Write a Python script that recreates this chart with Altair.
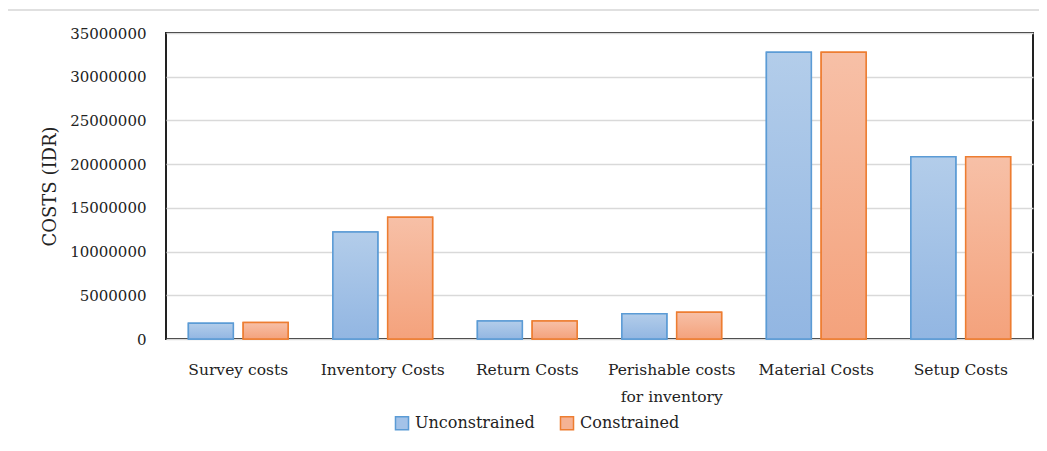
import altair as alt
import pandas as pd

categories = ["Survey costs", "Inventory Costs", "Return Costs",
              "Perishable costs for inventory", "Material Costs", "Setup Costs"]
series = ["Unconstrained", "Constrained"]
unconstrained = [1800000, 12250000, 2070000, 2900000, 32800000, 20850000]
constrained = [1900000, 13930000, 2050000, 3070000, 32800000, 20850000]
y_ticks = [0, 5000000, 10000000, 15000000, 20000000, 25000000, 30000000, 35000000]

rows = []
for c, u, k in zip(categories, unconstrained, constrained):
    rows.append({"category": c, "series": "Unconstrained", "value": u})
    rows.append({"category": c, "series": "Constrained", "value": k})
df = pd.DataFrame(rows)

FONT = "DejaVu Serif"

blue_grad = alt.Gradient(
    gradient="linear", x1=0, x2=0, y1=0, y2=1,
    stops=[alt.GradientStop(color="#b3cdea", offset=0),
           alt.GradientStop(color="#92b6e2", offset=1)])
orange_grad = alt.Gradient(
    gradient="linear", x1=0, x2=0, y1=0, y2=1,
    stops=[alt.GradientStop(color="#f7c0a7", offset=0),
           alt.GradientStop(color="#f4a27c", offset=1)])

x_enc = alt.X("category:N", sort=categories,
              scale=alt.Scale(paddingInner=0.31, paddingOuter=0.155),
              axis=alt.Axis(title=None, labelAngle=0, ticks=False, domain=False,
                            labelFont=FONT, labelFontSize=15.5, labelColor="#222",
                            labelPadding=23, labelLineHeight=27,
                            labelExpr="datum.value == 'Perishable costs for inventory' ? ['Perishable costs', 'for inventory'] : datum.value"))
xo_enc = alt.XOffset("series:N", sort=series,
                     scale=alt.Scale(paddingInner=0.18, paddingOuter=0))
y_enc = alt.Y("value:Q",
              scale=alt.Scale(domain=[0, 35000000], nice=False),
              axis=alt.Axis(title="COSTS (IDR)", values=y_ticks, format="d",
                            grid=True, gridColor="#d9d9d9", gridWidth=1.5,
                            ticks=False, domain=False,
                            labelFont=FONT, labelFontSize=15, labelColor="#222",
                            labelPadding=20,
                            titleFont=FONT, titleFontSize=18, titleFontWeight="normal",
                            titleColor="#222", titlePadding=10))

leg = dict(title=None, orient="none", direction="horizontal",
           legendX=228, legendY=382,
           symbolType="square", symbolSize=170, symbolStrokeWidth=1.5,
           labelFont=FONT, labelFontSize=16, labelColor="#222",
           labelOffset=5, columnPadding=22)

base = alt.Chart(df)

legend_layer = base.mark_bar(strokeWidth=1.5).encode(
    x=x_enc, xOffset=xo_enc, y=y_enc,
    fill=alt.Fill("series:N", sort=series,
                  scale=alt.Scale(domain=series, range=["#a3c2e8", "#f5b294"]),
                  legend=alt.Legend(**leg)),
    stroke=alt.Stroke("series:N", sort=series,
                      scale=alt.Scale(domain=series, range=["#5b9bd5", "#ed7d31"]),
                      legend=alt.Legend(**leg)),
)

grad_layer = base.mark_bar(strokeWidth=1.5).encode(
    x=x_enc, xOffset=xo_enc, y=y_enc,
    fill=alt.condition(alt.datum.series == "Unconstrained",
                       alt.value(blue_grad), alt.value(orange_grad)),
    stroke=alt.condition(alt.datum.series == "Unconstrained",
                         alt.value("#5b9bd5"), alt.value("#ed7d31")),
)

# light grey page frame (top and left edges) as decoration
frame_top = alt.Chart(pd.DataFrame({"k": [0]})).mark_rule(
    color="#e0e0e0", strokeWidth=2).encode(
    x=alt.value(-159), x2=alt.value(890), y=alt.value(-23))
frame_left = alt.Chart(pd.DataFrame({"k": [0]})).mark_rule(
    color="#e0e0e0", strokeWidth=2).encode(
    x=alt.value(-159), y=alt.value(-23), y2=alt.value(420))

chart = alt.layer(frame_top, frame_left, legend_layer, grad_layer).properties(
    width=867, height=306,
    autosize=alt.AutoSizeParams(type="none"),
    padding={"left": 158, "top": 25, "right": 6, "bottom": 95},
    background="white",
).configure_view(stroke="#222", strokeWidth=2)

chart.save("out.html", embed_options={"renderer": "svg", "actions": False})
